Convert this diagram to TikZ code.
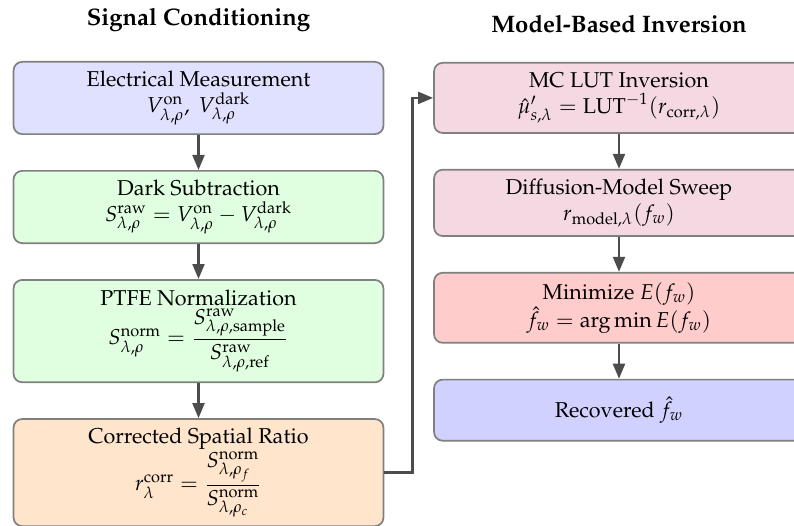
\documentclass[tikz,border=0pt]{standalone}
\usepackage[T1]{fontenc}
\usepackage{mathpazo}
\usepackage{amsmath}
\usetikzlibrary{arrows.meta,positioning}

\tikzset{
  stage/.style={draw=black!50, line width=0.8pt, rounded corners=4pt, align=center,
    minimum width=172pt, minimum height=28.4pt, inner ysep=4pt},
  flow/.style={-{Triangle[length=7pt,width=5.5pt]}, draw=black!70, line width=1.2pt},
  head/.style={font=\fontsize{11.1}{13}\selectfont\bfseries}
}

\begin{document}
\begin{tikzpicture}[x=0.465pt, y=0.465pt, node distance=16.3pt]
  \useasboundingbox (0,0) rectangle (794,-526);
  % column titles
  \node[head, anchor=base] (h1) at (198.5,-26) {Signal Conditioning};
  \node[head, anchor=base] (h2) at (619,-33) {Model-Based Inversion};

  % left column
  \node[stage, fill=blue!12, minimum height=33.6pt, anchor=north] (meas) at (198.5,-61)
    {Electrical Measurement\\ $V^{\text{on}}_{\lambda,\rho},\ V^{\text{dark}}_{\lambda,\rho}$};
  \node[stage, fill=green!12, minimum height=33.6pt, below=of meas] (dark)
    {Dark Subtraction\\ $S^{\text{raw}}_{\lambda,\rho} = V^{\text{on}}_{\lambda,\rho} - V^{\text{dark}}_{\lambda,\rho}$};
  \node[stage, fill=green!12, minimum height=47.6pt, below=of dark] (ptfe)
    {PTFE Normalization\\ $S^{\text{norm}}_{\lambda,\rho} = \dfrac{S^{\text{raw}}_{\lambda,\rho,\text{sample}}}{S^{\text{raw}}_{\lambda,\rho,\text{ref}}}$};
  \node[stage, fill=orange!20, minimum height=49.8pt, below=of ptfe] (ratio)
    {Corrected Spatial Ratio\\ $r^{\text{corr}}_{\lambda} = \dfrac{S^{\text{norm}}_{\lambda,\rho_f}}{S^{\text{norm}}_{\lambda,\rho_c}}$};

  % right column
  \node[stage, fill=purple!15, minimum height=32.6pt, anchor=north] (lut) at (619,-62)
    {MC LUT Inversion\\ $\hat{\mu}'_{s,\lambda} = \text{LUT}^{-1}(r_{\text{corr},\lambda})$};
  \node[stage, fill=purple!15, minimum height=30.8pt, below=of lut] (sweep)
    {Diffusion-Model Sweep\\ $r_{\text{model},\lambda}(f_w)$};
  \node[stage, fill=red!20, minimum height=32.6pt, below=of sweep] (fit)
    {Minimize $E(f_w)$\\ $\hat{f}_w = \arg\min E(f_w)$};
  \node[stage, fill=blue!18, below=of fit] (rec) {Recovered $\hat{f}_w$};

  % arrows
  \draw[flow] (meas) -- (dark);
  \draw[flow] (dark) -- (ptfe);
  \draw[flow] (ptfe) -- (ratio);
  \draw[flow] (ratio.east) -- ++(28,0) |- (lut.west);
  \draw[flow] (lut) -- (sweep);
  \draw[flow] (sweep) -- (fit);
  \draw[flow] (fit) -- (rec);
\end{tikzpicture}
\end{document}
